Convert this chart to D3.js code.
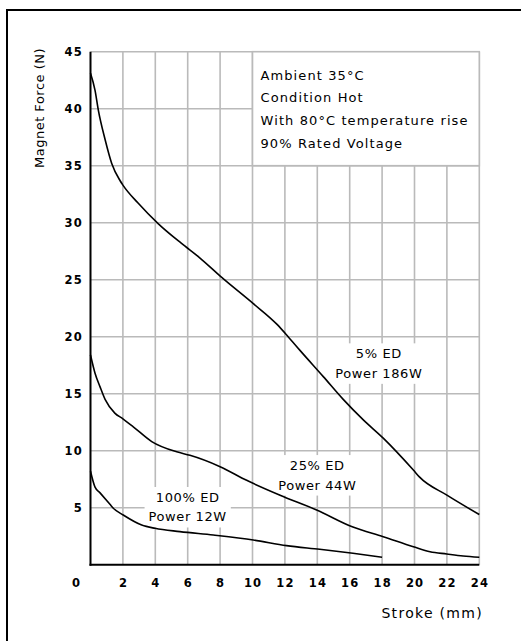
<!DOCTYPE html>
<html><head><meta charset="utf-8">
<script src="https://cdn.jsdelivr.net/npm/d3@7"></script>
<style>html,body{margin:0;padding:0;background:#fff;overflow:hidden}text{font-family:"DejaVu Sans",sans-serif;fill:#000}</style>
</head><body><svg id="c" width="521" height="641"></svg>
<script>
// Data
const xTicks = [2,4,6,8,10,12,14,16,18,20,22,24];
const yTicks = [5,10,15,20,25,30,35,40,45];
const ed5X   = [0,0.28,0.48,0.9,1.31,1.82,2.0,2.95,4.19,5.6,6.76,8.1,10.05,11.5,12.2,12.93,14.37,15.6,16.84,18.07,18.9,19.93,20.3,22,24];
const ed5Y   = [43.1,41.6,39.9,37.3,35.2,33.7,33.3,31.7,29.9,28.2,26.9,25.2,22.9,21.1,20.0,18.8,16.5,14.5,12.7,11.1,9.9,8.3,7.7,6.1,4.4];
const ed25X  = [0,0.28,0.59,0.9,1.5,2.0,2.64,3.78,5.32,6.14,8.0,9.64,11.7,13.96,16.2,18.07,19.93,20.96,21.99,23.0,24];
const ed25Y  = [18.4,16.8,15.6,14.5,13.3,12.8,12.1,10.8,9.9,9.6,8.6,7.4,6.1,4.8,3.3,2.46,1.58,1.14,0.94,0.76,0.65];
const ed100X = [0,0.28,0.59,1.2,1.41,2.02,3.16,3.98,5.52,7.58,10.05,12.1,14.15,16.2,18.0];
const ed100Y = [8.2,6.8,6.3,5.3,4.95,4.36,3.48,3.19,2.9,2.6,2.17,1.67,1.35,1.0,0.65];
const noteLines = ["Ambient 35°C","Condition Hot","With 80°C temperature rise","90% Rated Voltage"];
const curveLabels = [["5% ED","Power 186W"],["25% ED","Power 44W"],["100% ED","Power 12W"]];
const xTitle = "Stroke (mm)";
const yTitle = "Magnet Force (N)";

const svg = d3.select("#c");
const x = d3.scaleLinear().domain([0,24]).range([90.5,479.3]);
const y = d3.scaleLinear().domain([0,45]).range([564.7,51.7]);

// outer frame
svg.append("rect").attr("x",7).attr("y",10).attr("width",620).attr("height",700)
  .attr("fill","none").attr("stroke","#000").attr("stroke-width",2);

const grid = svg.append("g").attr("stroke","#bababa").attr("stroke-width",1.6);
grid.selectAll("line.v").data(xTicks).join("line").attr("class","v")
  .attr("x1",d=>x(d)).attr("x2",d=>x(d)).attr("y1",y(0)).attr("y2",y(45));
grid.selectAll("line.h").data(yTicks).join("line").attr("class","h")
  .attr("x1",x(0)).attr("x2",x(24)).attr("y1",d=>y(d)).attr("y2",d=>y(d));

// note box
svg.append("rect").attr("x",x(10)).attr("y",y(45)).attr("width",x(24)-x(10)).attr("height",y(35)-y(45))
  .attr("fill","#fff").attr("stroke","#bababa").attr("stroke-width",1.6);
svg.append("g").selectAll("text").data(noteLines).join("text")
  .attr("x",x(10)+8).attr("y",(d,i)=>75+i*22.8).attr("dy","0.35em")
  .attr("font-size",13).attr("letter-spacing",1.1).text(d=>d);

// curve label positions (data units)
const labelPos = [[17.8,18.5],[14.0,8.7],[6.0,5.9]];
const lg = svg.append("g");
curveLabels.forEach((lab,i)=>{
  const cx = x(labelPos[i][0]), cy = y(labelPos[i][1]);
  const g = lg.append("g");
  g.selectAll("text").data(lab).join("text")
    .attr("x",cx).attr("y",(d,j)=>cy+j*19.5).attr("dy","0.35em")
    .attr("text-anchor","middle").attr("font-size",13).attr("letter-spacing",0.6).text(d=>d);
  const bb = g.node().getBBox();
  g.insert("rect","text").attr("x",bb.x-4).attr("y",bb.y-3).attr("width",bb.width+8).attr("height",bb.height+6).attr("fill","#fff");
});

// curves
const line = d3.line().x(d=>x(d[0])).y(d=>y(d[1])).curve(d3.curveMonotoneX);
[[ed5X,ed5Y],[ed25X,ed25Y],[ed100X,ed100Y]].forEach(([xs,ys])=>{
  svg.append("path").datum(xs.map((v,i)=>[v,ys[i]])).attr("d",line)
    .attr("fill","none").attr("stroke","#000").attr("stroke-width",1.6);
});

// axes
svg.append("line").attr("x1",x(0)).attr("x2",x(0)).attr("y1",y(0)+1).attr("y2",y(45)).attr("stroke","#000").attr("stroke-width",2);
svg.append("line").attr("x1",x(0)-1).attr("x2",x(24)).attr("y1",y(0)).attr("y2",y(0)).attr("stroke","#000").attr("stroke-width",2);

// tick labels
svg.append("g").selectAll("text").data(yTicks).join("text")
  .attr("x",83).attr("y",d=>y(d)).attr("dy","0.35em").attr("text-anchor","end")
  .attr("font-size",11.5).attr("font-weight","bold").attr("letter-spacing",1.2).text(d=>d);
svg.append("g").selectAll("text").data(xTicks).join("text")
  .attr("x",d=>x(d)+0.6).attr("y",583).attr("dy","0.35em").attr("text-anchor","middle")
  .attr("font-size",11.5).attr("font-weight","bold").attr("letter-spacing",1.2).text(d=>d);
svg.append("text").attr("x",76).attr("y",583).attr("dy","0.35em").attr("text-anchor","middle")
  .attr("font-size",11.5).attr("font-weight","bold").text("0");

// titles
svg.append("text").attr("x",483).attr("y",613).attr("dy","0.35em").attr("text-anchor","end")
  .attr("font-size",14).attr("letter-spacing",1.3).text(xTitle);
svg.append("text").attr("transform","translate(39,108) rotate(-90)").attr("dy","0.35em")
  .attr("text-anchor","middle").attr("font-size",13).attr("letter-spacing",0.5).text(yTitle);
</script></body></html>
